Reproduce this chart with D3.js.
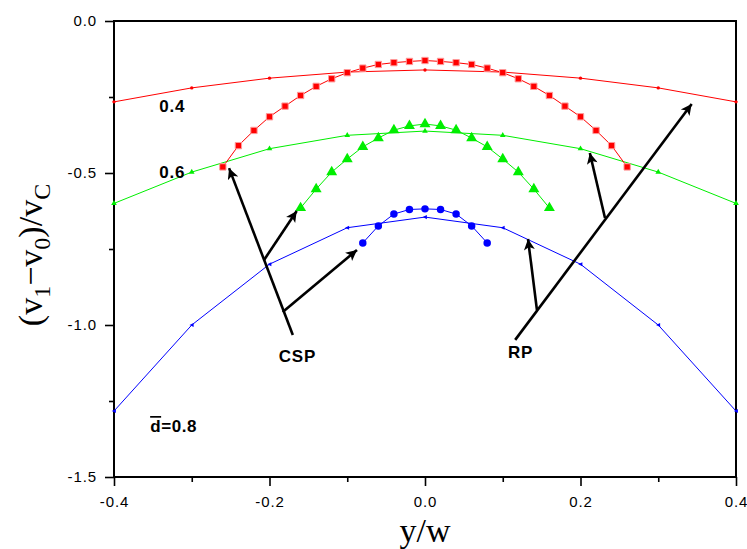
<!DOCTYPE html>
<html><head><meta charset="utf-8">
<script src="https://cdn.jsdelivr.net/npm/d3@7"></script>
<style>body{margin:0;background:#fff}svg{display:block}</style>
</head><body>
<svg id="c" width="747" height="549"></svg>
<script>
// ---- data ----
const xRP = [-0.4, -0.3, -0.2, -0.1, 0.0, 0.1, 0.2, 0.3, 0.4];
const rpRed   = [-0.266, -0.22, -0.188, -0.168, -0.161, -0.168, -0.188, -0.22, -0.266];
const rpGreen = [-0.60, -0.497, -0.42, -0.376, -0.362, -0.376, -0.42, -0.497, -0.60];
const rpBlue  = [-1.283, -1.0, -0.80, -0.68, -0.645, -0.68, -0.80, -1.0, -1.283];

const xCspRed = [-0.26,-0.24,-0.22,-0.20,-0.18,-0.16,-0.14,-0.12,-0.10,-0.08,-0.06,-0.04,-0.02,0,0.02,0.04,0.06,0.08,0.10,0.12,0.14,0.16,0.18,0.20,0.22,0.24,0.26];
const cspRed  = [-0.48,-0.41,-0.36,-0.315,-0.28,-0.245,-0.215,-0.19,-0.17,-0.155,-0.143,-0.137,-0.133,-0.13,-0.133,-0.137,-0.143,-0.155,-0.17,-0.19,-0.215,-0.245,-0.28,-0.315,-0.36,-0.41,-0.48];
const xCspGreen = [-0.16,-0.14,-0.12,-0.10,-0.08,-0.06,-0.04,-0.02,0,0.02,0.04,0.06,0.08,0.10,0.12,0.14,0.16];
const cspGreen  = [-0.615,-0.553,-0.497,-0.454,-0.414,-0.385,-0.359,-0.345,-0.339,-0.345,-0.359,-0.385,-0.414,-0.454,-0.497,-0.553,-0.615];
const xCspBlue = [-0.08,-0.06,-0.04,-0.02,0,0.02,0.04,0.06,0.08];
const cspBlue  = [-0.73,-0.674,-0.635,-0.62,-0.618,-0.62,-0.635,-0.674,-0.73];

const xTicks = [-0.4, -0.2, 0.0, 0.2, 0.4];
const xMinor = [-0.3, -0.1, 0.1, 0.3];
const yTicks = [0.0, -0.5, -1.0, -1.5];
const yMinor = [-0.25, -0.75, -1.25];

// annotations (data coords)
const arrows = [
  [-0.170,-1.033,-0.252,-0.484],
  [-0.207,-0.786,-0.165,-0.625],
  [-0.183,-0.957,-0.0875,-0.753],
  [0.116,-1.049,0.343,-0.273],
  [0.2315,-0.648,0.212,-0.434],
  [0.144,-0.951,0.1325,-0.717]
];

// ---- layout ----
const svg = d3.select('#c');
const L = 114, R = 736, T = 21, B = 477;
const x = d3.scaleLinear().domain([-0.4, 0.4]).range([L, R]);
const y = d3.scaleLinear().domain([-1.5, 0.0]).range([B, T]);

const defs = svg.append('defs');
defs.append('clipPath').attr('id','clip').append('rect')
  .attr('x', L).attr('y', T).attr('width', R-L).attr('height', B-T);
defs.append('marker').attr('id','ah').attr('viewBox','0 0 10 10')
  .attr('refX', 10).attr('refY', 5).attr('markerWidth', 5.5).attr('markerHeight', 4.2)
  .attr('markerUnits','strokeWidth').attr('orient','auto')
  .append('path').attr('d','M0,0 L10,5 L0,10 L2.5,5 Z').attr('fill','#000');

// axes
const sans = 'Arial, "Liberation Sans", sans-serif';
const xAx = svg.append('g').attr('transform',`translate(0,${B})`)
  .call(d3.axisBottom(x).tickValues(xTicks).tickSize(9).tickPadding(10).tickFormat(d3.format('.1f')));
const xAxm = svg.append('g').attr('transform',`translate(0,${B})`)
  .call(d3.axisBottom(x).tickValues(xMinor).tickSize(5).tickFormat(''));
const yAx = svg.append('g').attr('transform',`translate(${L},0)`)
  .call(d3.axisLeft(y).tickValues(yTicks).tickSize(9).tickPadding(8).tickFormat(d3.format('.1f')));
const yAxm = svg.append('g').attr('transform',`translate(${L},0)`)
  .call(d3.axisLeft(y).tickValues(yMinor).tickSize(5).tickFormat(''));
[xAx, xAxm, yAx, yAxm].forEach(g => {
  g.attr('font-size', 15).attr('font-family', sans);
  g.select('.domain').remove();
  g.selectAll('line').attr('stroke','#000').attr('stroke-width',1.6);
  g.selectAll('text').attr('fill','#000').attr('letter-spacing', '0.9px');
});
xAx.selectAll('text').text(d => d3.format('.1f')(d).replace('−','-'));
yAx.selectAll('text').text(d => d3.format('.1f')(d).replace('−','-'));

// frame
svg.append('rect').attr('x',L).attr('y',T).attr('width',R-L).attr('height',B-T)
  .attr('fill','none').attr('stroke','#000').attr('stroke-width',2);

const plot = svg.append('g').attr('clip-path','url(#clip)');
const line = d3.line().x(d=>x(d[0])).y(d=>y(d[1]));

function series(xs, ys, color, shape, size, lw, edge) {
  const pts = xs.map((v,i)=>[v, ys[i]]);
  plot.append('path').datum(pts).attr('d', line).attr('fill','none')
    .attr('stroke', color).attr('stroke-width', lw);
  const sym = d3.symbol().type(shape).size(size);
  svg.append('g').selectAll('path').data(pts).join('path')
    .attr('d', sym).attr('transform', d=>`translate(${x(d[0])},${y(d[1])})`)
    .attr('fill', color).attr('stroke', edge || 'none')
    .attr('stroke-width', 1);
}
const triLeft = { draw(ctx, size){ const s=Math.sqrt(size); ctx.moveTo(-s*0.6,0); ctx.lineTo(s*0.5,-s*0.55); ctx.lineTo(s*0.5,s*0.55); ctx.closePath(); } };

series(xRP, rpRed, '#ff0000', d3.symbolCircle, 9, 1);
series(xRP, rpGreen, '#00ee00', d3.symbolTriangle, 14, 1);
series(xRP, rpBlue, '#0000ff', triLeft, 14, 1);
series(xCspRed, cspRed, '#ff0000', d3.symbolSquare, 40, 1, '#ff9a9a');
series(xCspGreen, cspGreen, '#00ee00', d3.symbolTriangle, 52, 1);
series(xCspBlue, cspBlue, '#0000ff', d3.symbolCircle, 44, 1);

// arrows
svg.append('g').selectAll('line').data(arrows).join('line')
  .attr('x1', d=>x(d[0])).attr('y1', d=>y(d[1]))
  .attr('x2', d=>x(d[2])).attr('y2', d=>y(d[3]))
  .attr('stroke','#000').attr('stroke-width',2.6).attr('marker-end','url(#ah)');

// labels
const labels = [
  {t:'0.4', x:-0.325, y:-0.30},
  {t:'0.6', x:-0.325, y:-0.518},
  {t:'CSP', x:-0.164, y:-1.122},
  {t:'RP', x:0.123, y:-1.108}
];
const lblG = svg.append('g').attr('font-family', sans).attr('font-weight','bold').attr('font-size', 17);
lblG.selectAll('text').data(labels).join('text')
  .attr('x', d=>x(d.x)).attr('y', d=>y(d.y)).attr('text-anchor','middle')
  .attr('letter-spacing','0.8px').text(d=>d.t);
const dl = lblG.append('text').attr('x', x(-0.3535)).attr('y', y(-1.352)).attr('letter-spacing','0.6px');
dl.append('tspan').style('text-decoration','overline').text('d');
dl.append('tspan').text('=0.8');

// axis titles
const serif = '"Times New Roman", "Liberation Serif", serif';
svg.append('text').attr('x', x(0)).attr('y', 542).attr('text-anchor','middle')
  .attr('font-family', serif).attr('font-size', 34).text('y/w');
const yl = svg.append('text').attr('transform','translate(42,255) rotate(-90)')
  .attr('text-anchor','middle').attr('font-family', serif).attr('font-size', 34);
yl.append('tspan').text('(v');
yl.append('tspan').attr('dy', 8).attr('font-size', 24).text('1');
yl.append('tspan').attr('dy', -8).text('\u2212v');
yl.append('tspan').attr('dy', 8).attr('font-size', 24).text('0');
yl.append('tspan').attr('dy', -8).text(')/v');
yl.append('tspan').attr('dy', 8).attr('font-size', 24).text('C');
</script>
</body></html>
